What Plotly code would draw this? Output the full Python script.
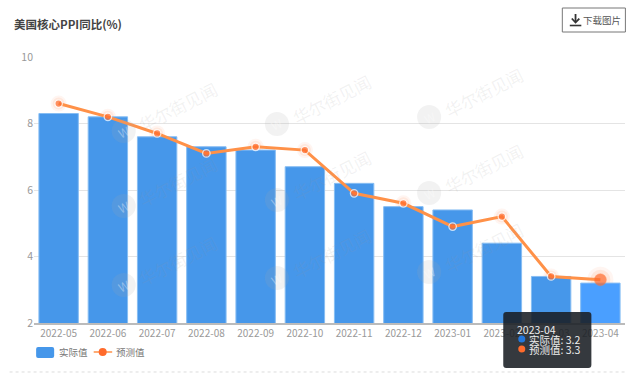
import plotly.graph_objects as go

W, H = 640, 373
L, R, T, B = 34.4, 624.6, 57, 323

months = ["2022-05","2022-06","2022-07","2022-08","2022-09","2022-10","2022-11","2022-12","2023-01","2023-02","2023-03","2023-04"]
actual = [8.3,8.2,7.6,7.3,7.2,6.7,6.2,5.5,5.4,4.4,3.4,3.2]
forecast = [8.6,8.2,7.7,7.1,7.3,7.2,5.9,5.6,4.9,5.2,3.4,3.3]
y_ticks = [2,4,6,8,10]
title = "美国核心PPI同比(%)"
button_text = "下载图片"
watermark = "华尔街见闻"
tip_title = "2023-04"
tip_rows = ["实际值: 3.2","预测值: 3.3"]
legend_labels = ["实际值","预测值"]
bar_colors = ["#4697EA"]*11 + ["#4A9FFF"]

FONT = "Noto Sans CJK SC"
px = lambda v: (v-L)/(R-L)
py = lambda v: (B-v)/(B-T)

fig = go.Figure()
fig.add_bar(x=months, y=actual, name=legend_labels[0], showlegend=False,
            marker=dict(color=bar_colors, line=dict(width=1, color="#86BDF3")), width=0.8)
fig.add_scatter(x=months, y=forecast, mode="lines+markers", name=legend_labels[1], showlegend=False,
                line=dict(color="#FF9148", width=3),
                marker=dict(size=[7.5]*11+[12], color="#FF6B2C", line=dict(color=["#FFFFFF"]*11+["#FF7A3A"], width=[1.3]*11+[0.5])))

shapes, ann = [], []
def text(x, y, s, size=10, color="#666", anchor="left", **kw):
    ann.append(dict(xref="paper", yref="paper", x=px(x), y=py(y), text=s, showarrow=False, borderpad=0, borderwidth=0,
                    xanchor=anchor, yanchor="middle", font=dict(family=FONT, size=size, color=color), **kw))
def rect(x0, x1, y0, y1, fill, line=None, kind="rect", layer="above"):
    shapes.append(dict(type=kind, xref="paper", yref="paper", x0=px(x0), x1=px(x1), y0=py(y0), y1=py(y1),
                       line=dict(width=0) if line is None else line, fillcolor=fill, layer=layer))
def rounded(x0, x1, y0, y1, r, fill, line=None):
    P = lambda x, y: f"{px(x):.4f},{py(y):.4f}"
    path = (f"M {P(x0+r,y0)} L {P(x1-r,y0)} Q {P(x1,y0)} {P(x1,y0+r)} L {P(x1,y1-r)} Q {P(x1,y1)} {P(x1-r,y1)} "
            f"L {P(x0+r,y1)} Q {P(x0,y1)} {P(x0,y1-r)} L {P(x0,y0+r)} Q {P(x0,y0)} {P(x0+r,y0)} Z")
    shapes.append(dict(type="path", xref="paper", yref="paper", path=path, fillcolor=fill,
                       line=dict(width=0) if line is None else line))
def poly(pts, color, width, dash="solid"):
    path = " ".join(("M" if i == 0 else "L")+f" {px(x):.4f} {py(y):.4f}" for i, (x, y) in enumerate(pts))
    shapes.append(dict(type="path", xref="paper", yref="paper", path=path, line=dict(color=color, width=width, dash=dash)))

# glow around forecast points, drawn behind the bars
for i, (m, v) in enumerate(zip(months, forecast)):
    for r, a in ([(8, .07), (6, .10)] if i < 11 else [(13, .07), (10, .12)]):
        shapes.append(dict(type="circle", layer="below", xref="x", yref="y", xsizemode="pixel", ysizemode="pixel",
                           xanchor=m, yanchor=v, x0=-r, x1=r, y0=-r, y1=r, line=dict(width=0),
                           fillcolor=f"rgba(255,120,50,{a})"))

# watermarks
for cx, rows in [(124,(131,206,285)),(277,(124,200,278)),(429,(117,193,272))]:
    for cy in rows:
        rect(cx-12, cx+12, cy-12, cy+12, "rgba(170,170,170,0.15)", kind="circle")
        text(cx, cy, "W", size=12, color="rgba(255,255,255,0.35)", anchor="center", textangle=-25)
        text(cx+54, cy-25, watermark, size=17, color="rgba(150,150,150,0.13)", anchor="center", textangle=-27)

text(14, 24, f"<b>{title}</b>", size=11.5, color="#444")

# download button
rect(562, 625, 8, 32, "white", dict(color="#777", width=1))
poly([(569.5,25.5),(581,25.5)], "#333", 1.6)
poly([(575.2,14),(575.2,22)], "#333", 1.8)
poly([(571.5,18.5),(575.2,22.5),(579,18.5)], "#333", 1.8)
text(583, 20, button_text, size=9.5, color="#555")

# legend
rounded(36.5, 54.5, 347, 358, 2, "#4697EA")
text(59, 352, legend_labels[0], size=9.5, color="#777")
poly([(94,352),(112.5,352)], "#FF9148", 1.5)
rect(99, 107, 348, 356, "#FF6B2C", kind="circle")
text(116, 352, legend_labels[1], size=9.5, color="#777")
poly([(10,372),(625,372)], "#DDDDDD", 1, dash="dot")

# tooltip
rounded(503, 591, 312, 368, 3, "rgba(25,30,35,0.88)")
text(517, 329, tip_title, size=10.5, color="#EEE")
text(529, 339, tip_rows[0], size=10.5, color="#EEE")
text(529, 349, tip_rows[1], size=10.5, color="#EEE")
rect(518, 525, 335.5, 342.5, "#2277DD", kind="circle")
rect(518, 525, 345.5, 352.5, "#FF6B2C", kind="circle")

fig.update_layout(
    width=W, height=H, paper_bgcolor="white", plot_bgcolor="white",
    margin=dict(l=L, r=W-R, t=T, b=H-B, pad=0, autoexpand=False),
    font=dict(family=FONT, size=10, color="#999"),
    showlegend=False, hovermode=False,
    shapes=shapes, annotations=ann,
    xaxis=dict(type="category", range=[-0.5,11.5], showgrid=False, showline=True, linecolor="#BBB", linewidth=1.5,
               ticks="", tickfont=dict(size=10, color="#999"), fixedrange=True, tickangle=0),
    yaxis=dict(range=[2,10], tickvals=y_ticks, showgrid=True, gridcolor="#E4E4E4", gridwidth=1, zeroline=False,
               showline=False, ticks="", tickfont=dict(size=10.5, color="#999"), fixedrange=True),
)
fig.write_html("out.html", config=dict(displayModeBar=False),
               post_script="document.body.style.margin='0';document.body.style.overflow='hidden';")
